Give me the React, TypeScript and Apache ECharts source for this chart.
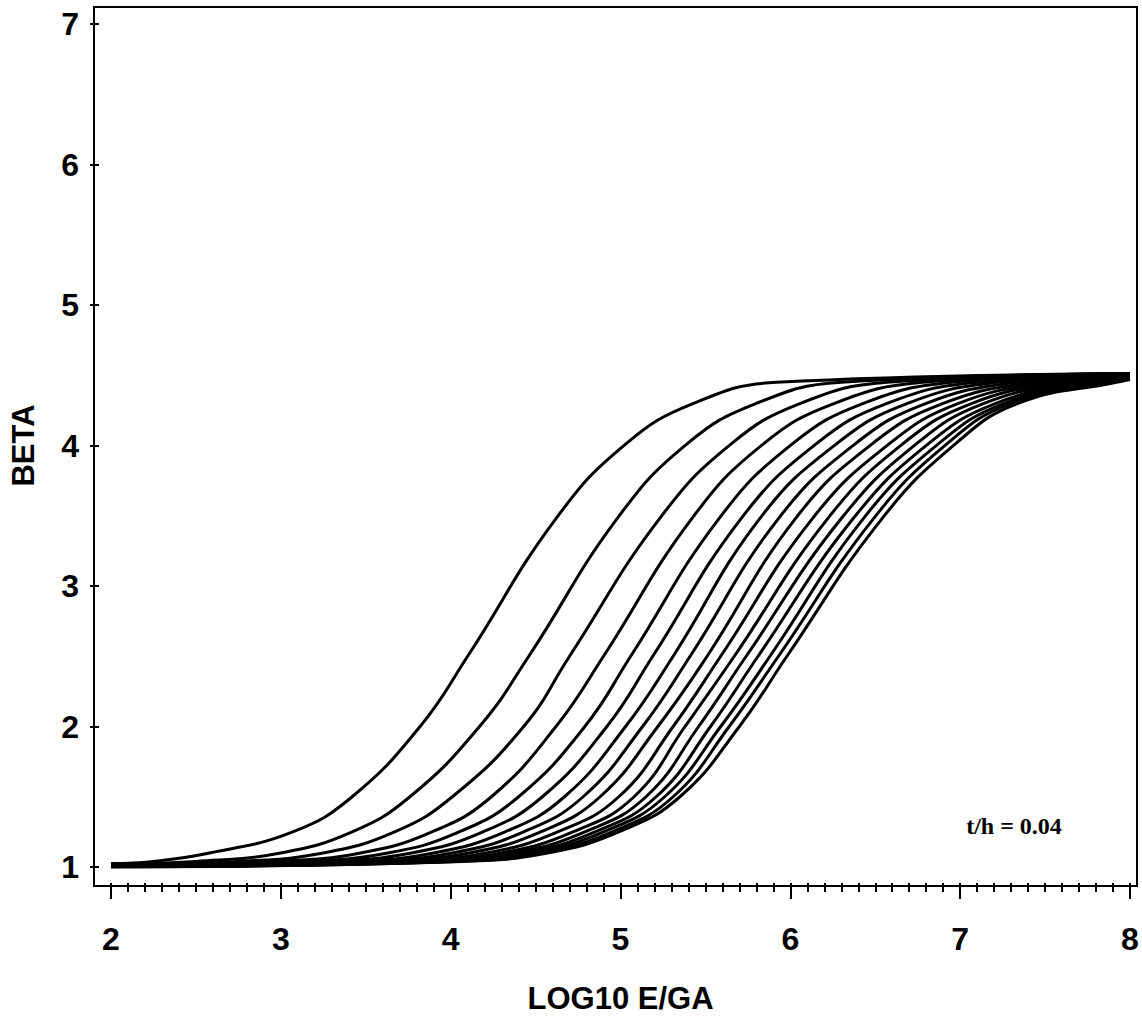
import React, { useEffect, useRef } from "react";
import * as echarts from "echarts";

const LEVEL_1_04 = [2.25, 2.5, 2.75, 2.95, 3.1, 3.25, 3.4, 3.5, 3.6, 3.7, 3.8, 3.87, 3.93, 3.98, 4.03, 4.07];
const LEVEL_1_10 = [2.58, 3.0, 3.25, 3.47, 3.63, 3.77, 3.9, 4.01, 4.11, 4.21, 4.3, 4.37, 4.43, 4.48, 4.53, 4.57];
const LEVEL_1_25 = [3.07, 3.42, 3.67, 3.89, 4.05, 4.19, 4.32, 4.43, 4.53, 4.63, 4.72, 4.79, 4.85, 4.9, 4.95, 4.99];
const LEVEL_1_50 = [3.42, 3.76, 4.01, 4.24, 4.4, 4.54, 4.67, 4.78, 4.88, 4.99, 5.08, 5.15, 5.21, 5.26, 5.31, 5.35];
const LEVEL_2_00 = [3.82, 4.17, 4.43, 4.62, 4.79, 4.92, 5.03, 5.13, 5.22, 5.31, 5.38, 5.46, 5.53, 5.59, 5.64, 5.7];
const LEVEL_2_50 = [4.1, 4.46, 4.7, 4.9, 5.06, 5.19, 5.31, 5.41, 5.51, 5.59, 5.67, 5.74, 5.81, 5.88, 5.93, 5.98];
const LEVEL_3_48 = [4.62, 4.98, 5.23, 5.42, 5.58, 5.71, 5.82, 5.93, 6.03, 6.13, 6.22, 6.3, 6.37, 6.43, 6.49, 6.54];
const LEVEL_4_01 = [5.03, 5.39, 5.65, 5.84, 6.01, 6.15, 6.27, 6.38, 6.48, 6.58, 6.66, 6.74, 6.81, 6.87, 6.92, 6.97];
const LEVEL_4_30 = [5.43, 5.8, 6.06, 6.26, 6.43, 6.57, 6.69, 6.8, 6.9, 6.99, 7.07, 7.14, 7.21, 7.26, 7.3, 7.34];
const LEVEL_4_45 = [5.92, 6.3, 6.57, 6.78, 6.95, 7.1, 7.22, 7.33, 7.43, 7.52, 7.6, 7.67, 7.74, 7.8, 7.86, 7.92];
// beta at LOG10 E/GA = 2 and = 8
const START_BETA = [1.025, 1.02, 1.015, 1.012, 1.01, 1.008, 1.006, 1.005, 1.004, 1.003, 1.003, 1.002, 1.002, 1.001, 1.001, 1.0];
const END_BETA = [4.51, 4.51, 4.51, 4.51, 4.51, 4.5, 4.5, 4.5, 4.5, 4.5, 4.49, 4.49, 4.49, 4.48, 4.48, 4.47];

const X_TICKS = [2, 3, 4, 5, 6, 7, 8];
const Y_TICKS = [1, 2, 3, 4, 5, 6, 7];

const LEVELS: [number[], number][] = [
  [LEVEL_1_04, 1.04],
  [LEVEL_1_10, 1.1],
  [LEVEL_1_25, 1.25],
  [LEVEL_1_50, 1.5],
  [LEVEL_2_00, 2.0],
  [LEVEL_2_50, 2.5],
  [LEVEL_3_48, 3.48],
  [LEVEL_4_01, 4.01],
  [LEVEL_4_30, 4.3],
  [LEVEL_4_45, 4.45],
];

export default function App() {
  const ref = useRef<HTMLDivElement>(null);
  useEffect(() => {
    if (!ref.current) return;
    const chart = echarts.init(ref.current, null, { renderer: "svg" });
    const series = START_BETA.map((s, k) => {
      const data: number[][] = [[X_TICKS[0], s]];
      LEVELS.forEach(([arr, b]) => data.push([arr[k], b]));
      data.push([X_TICKS[X_TICKS.length - 1], END_BETA[k]]);
      return {
        type: "line",
        name: "curve" + (k + 1),
        data,
        smooth: 0.45,
        showSymbol: false,
        lineStyle: { color: "#000", width: 3 },
        itemStyle: { color: "#000" },
      };
    });
    const font = "'Liberation Sans', Arial, sans-serif";
    chart.setOption({
      animation: false,
      backgroundColor: "#fff",
      grid: { left: 106, right: 12, top: 24, bottom: 149 },
      xAxis: {
        type: "value",
        min: X_TICKS[0],
        max: X_TICKS[X_TICKS.length - 1],
        interval: 1,
        offset: 16,
        name: "LOG10 E/GA",
        nameLocation: "middle",
        nameGap: 100,
        nameTextStyle: { fontFamily: font, fontWeight: "bold", fontSize: 31, color: "#000" },
        axisLine: { show: false },
        axisTick: { show: true, length: 16, lineStyle: { color: "#000", width: 2 } },
        minorTick: { show: true, splitNumber: 10, length: 9, lineStyle: { color: "#000", width: 2 } },
        splitLine: { show: false },
        axisLabel: { fontFamily: font, fontWeight: "bold", fontSize: 32, color: "#000", margin: 40 },
      },
      yAxis: {
        type: "value",
        min: Y_TICKS[0],
        max: Y_TICKS[Y_TICKS.length - 1],
        interval: 1,
        offset: 12,
        name: "BETA",
        nameLocation: "middle",
        nameGap: 60,
        nameTextStyle: { fontFamily: font, fontWeight: "bold", fontSize: 31, color: "#000" },
        axisLine: { show: false },
        axisTick: { show: true, length: 9, lineStyle: { color: "#000", width: 2 } },
        splitLine: { show: false },
        axisLabel: { fontFamily: font, fontWeight: "bold", fontSize: 32, color: "#000", margin: 20 },
      },
      graphic: [
        {
          type: "rect",
          shape: { x: 94, y: 7, width: 1043, height: 879 },
          style: { fill: "none", stroke: "#000", lineWidth: 2 },
          silent: true,
        },
        {
          type: "text",
          x: 1014,
          y: 826,
          style: {
            text: "t/h = 0.04",
            fontFamily: "'Liberation Serif', 'Times New Roman', serif",
            fontWeight: "bold",
            fontSize: 24,
            fill: "#000",
            align: "center",
            verticalAlign: "middle",
          },
        },
      ],
      series,
    });
    return () => chart.dispose();
  }, []);
  return (
    <div
      ref={ref}
      style={{ position: "absolute", left: 0, top: 0, width: 1142, height: 1019 }}
    />
  );
}
